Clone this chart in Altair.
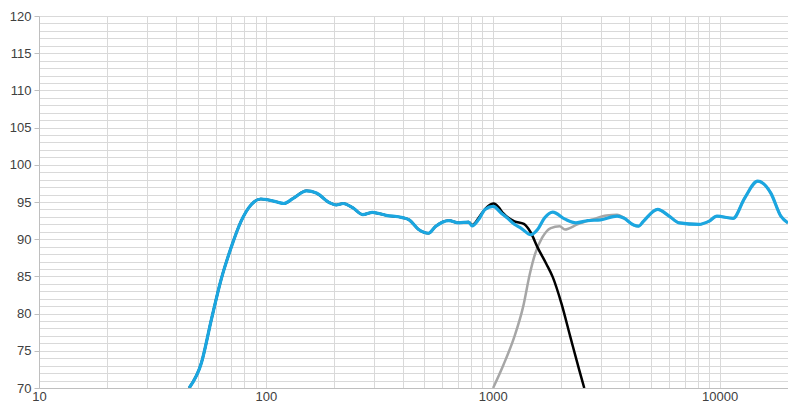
import altair as alt
import pandas as pd

# Blue: system (combined) response
blue_f = [45.9, 52, 57.5, 63.5, 70.3, 77.7, 85.9, 94.9, 101.5, 112, 120, 132, 151, 167, 191, 204, 219, 242, 267,
          295, 339, 400, 428, 471, 521, 559, 640, 708, 783, 810, 864, 924, 1003, 1090, 1164, 1245, 1330, 1470,
          1575, 1690, 1838, 2080, 2325, 2620, 2985, 3530, 3775, 4175, 4390, 4610, 5330, 5990, 6620, 8100, 8950,
          9730, 11450, 12870, 14700, 16800, 18600, 20000]
blue_db = [70, 73.4, 79.2, 84.6, 88.9, 92.4, 94.6, 95.4, 95.3, 95.0, 94.8, 95.5, 96.5, 96.2, 94.9, 94.6, 94.8, 94.2,
           93.3, 93.6, 93.2, 92.9, 92.6, 91.3, 90.8, 91.7, 92.5, 92.2, 92.3, 91.8, 92.6, 94.0, 94.4, 93.5, 92.8,
           92.0, 91.5, 90.6, 91.3, 92.85, 93.65, 92.7, 92.2, 92.5, 92.6, 93.1, 92.85, 91.9, 91.75, 92.4, 94.0,
           93.1, 92.2, 92.0, 92.4, 93.1, 92.8, 95.5, 97.8, 96.2, 93.1, 92.2]

# Black: woofer
black_f = [45.9, 52, 57.5, 63.5, 70.3, 77.7, 85.9, 94.9, 101.5, 112, 120, 132, 151, 167, 191, 204, 219, 242, 267,
           295, 339, 400, 428, 471, 521, 559, 640, 708, 783, 810, 864, 895, 950, 1010, 1060, 1110, 1245, 1370,
           1470, 1575, 1720, 1838, 2005, 2195, 2400, 2530]
black_db = [70, 73.4, 79.2, 84.6, 88.9, 92.4, 94.6, 95.4, 95.3, 95.0, 94.8, 95.5, 96.5, 96.2, 94.9, 94.6, 94.8,
            94.2, 93.3, 93.6, 93.2, 92.9, 92.6, 91.3, 90.8, 91.7, 92.5, 92.2, 92.3, 91.9, 92.8, 93.5, 94.4, 94.8,
            94.3, 93.5, 92.4, 92.05, 90.9, 88.9, 86.7, 84.9, 81.4, 76.9, 72.5, 70]

# Grey: tweeter
grey_f = [1003, 1110, 1245, 1360, 1455, 1535, 1650, 1800, 1970, 2080, 2360, 2780, 3170, 3530, 3775, 4175, 4390,
          4610, 5330, 5990, 6620, 8100, 8950, 9730, 11450, 12870, 14700, 16800, 18600, 20000]
grey_db = [70, 73.0, 76.9, 80.9, 85.3, 88.0, 90.2, 91.5, 91.75, 91.3, 92.0, 92.7, 93.2, 93.3, 92.9, 91.9, 91.75,
           92.4, 94.0, 93.1, 92.2, 92.0, 92.4, 93.1, 92.8, 95.5, 97.8, 96.2, 93.1, 92.2]

series_names = ["Tweeter", "Woofer", "System"]
series_colors = ["#a6a6a6", "#000000", "#1ba6e0"]
series_widths = [2.5, 2.5, 3.2]

x_grid = [10, 20, 30, 40, 50, 60, 70, 80, 90, 100, 200, 300, 400, 500, 600, 700, 800, 900,
          1000, 2000, 3000, 4000, 5000, 6000, 7000, 8000, 9000, 10000, 20000]
x_labels = [10, 100, 1000, 10000]
y_grid = list(range(70, 121))

frames = []
for name, f, d in [("Tweeter", grey_f, grey_db), ("Woofer", black_f, black_db), ("System", blue_f, blue_db)]:
    frames.append(pd.DataFrame({"freq": f, "db": d, "series": name}))

label_test = " || ".join(f"datum.value == {v}" for v in x_labels)

xaxis = alt.Axis(values=x_grid, labelExpr=f"({label_test}) ? format(datum.value, 'd') : ''",
                 grid=True, gridColor="#d9d9d9", gridWidth=1, tickSize=0, labelPadding=2,
                 domainColor="#bfbfbf", labelFont="Liberation Sans", labelFontSize=13,
                 labelColor="#404040", title=None, labelFlush=False, labelOverlap=False)
yaxis = alt.Axis(values=y_grid, labelExpr="datum.value % 5 == 0 ? format(datum.value, 'd') : ''",
                 grid=True, gridColor="#d9d9d9", gridWidth=1, tickSize=5, tickColor="#bfbfbf",
                 tickOpacity={"condition": {"test": "datum.value % 5 == 0", "value": 1}, "value": 0},
                 labelPadding=3, domainColor="#bfbfbf", labelFont="Liberation Sans", labelFontSize=13,
                 labelColor="#404040", title=None, labelOverlap=False, labelFlush=False)

xs = alt.Scale(type="log", domain=[10, 20000], nice=False)
ys = alt.Scale(domain=[70, 120], nice=False)

layers = []
for name, col, w, df in zip(series_names, series_colors, series_widths, frames):
    layers.append(
        alt.Chart(df).mark_line(color=col, strokeWidth=w, interpolate="monotone", clip=True).encode(
            x=alt.X("freq:Q", scale=xs, axis=xaxis),
            y=alt.Y("db:Q", scale=ys, axis=yaxis),
            order=alt.Order("freq:Q"),
        )
    )

chart = alt.layer(*layers).properties(
    width=749, height=372,
    autosize=alt.AutoSizeParams(type="none"),
    padding={"left": 31, "top": 8, "right": 0, "bottom": 18},
    background="white",
).configure_view(strokeWidth=0)

chart.save("out.html", embed_options={"renderer": "svg", "actions": False})
